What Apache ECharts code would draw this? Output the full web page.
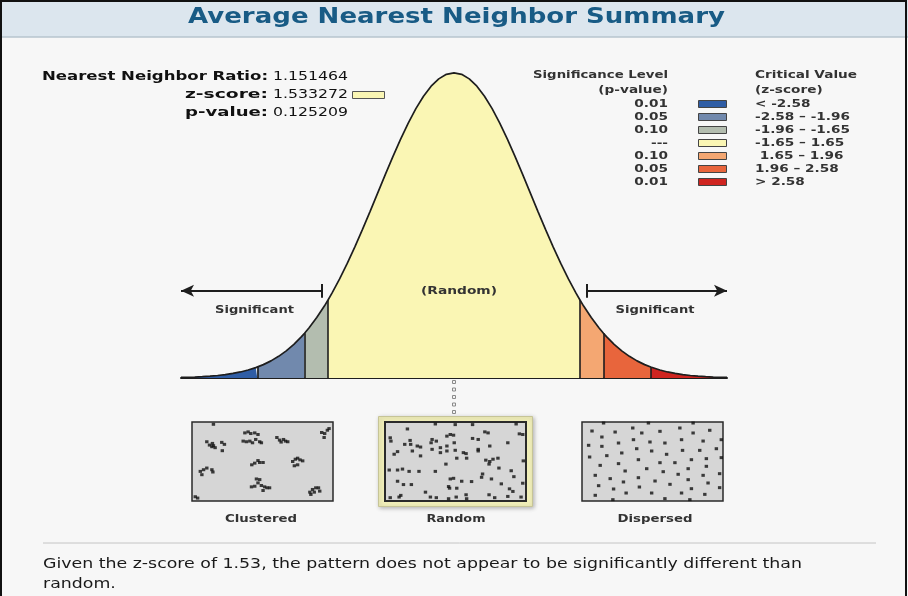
<!DOCTYPE html>
<html>
<head>
<meta charset="utf-8">
<title>Average Nearest Neighbor Summary</title>
<script src="https://cdn.jsdelivr.net/npm/echarts@6/dist/echarts.min.js"></script>
<style>
  html, body { margin: 0; padding: 0; background: #f7f7f7; }
  #main { width: 908px; height: 596px; }
</style>
</head>
<body>
<div id="main"></div>
<script>
// normal curve, right half (left half is the mirror)
var curveZ = [0, 0.1, 0.2, 0.3, 0.4, 0.5, 0.6, 0.7, 0.8, 0.9, 1.0, 1.1, 1.2, 1.3, 1.4, 1.5, 1.6, 1.65, 1.7, 1.8, 1.9, 1.96,
    2.0, 2.1, 2.2, 2.3, 2.4, 2.5, 2.58, 2.6, 2.7, 2.8, 2.9, 3.0, 3.1, 3.2, 3.3, 3.4, 3.5, 3.58];
var curveDensity = [0.3989, 0.3970, 0.3910, 0.3814, 0.3683, 0.3521, 0.3332, 0.3123, 0.2897, 0.2661, 0.2420, 0.2179,
    0.1942, 0.1714, 0.1497, 0.1295, 0.1109, 0.1023, 0.0940, 0.0790, 0.0656, 0.0584, 0.0540, 0.0440, 0.0355, 0.0283,
    0.0224, 0.0175, 0.0143, 0.0136, 0.0104, 0.0079, 0.0060, 0.0044, 0.0033, 0.0024, 0.0017, 0.0012, 0.0009, 0.0007];

var bandLimits = [-3.58, -2.58, -1.96, -1.65, 1.65, 1.96, 2.58, 3.58];
var bandColors = ['#2f5da5', '#7189ad', '#b3bdaf', '#faf6b4', '#f4a772', '#e8653c', '#cf2420'];
var pValues = ['0.01', '0.05', '0.10', '---', '0.10', '0.05', '0.01'];
var criticalValues = ['< -2.58', '-2.58 \u2013 -1.96', '-1.96 \u2013 -1.65', '-1.65 \u2013 1.65', ' 1.65 \u2013 1.96', '1.96 \u2013 2.58', '> 2.58'];

var nnRatio = '1.151464';
var zScore = '1.533272';
var pValue = '0.125209';
var sigZ = 1.74;     // where the "Significant" arrows start
var arrowY = 0.114;

// point patterns, 0-100 inside each box (y from top)
var clusteredDots = [[15.2,2.9],[10.5,25],[12.4,29.2],[14.1,31.3],[15.2,30],[16.4,32.5],[21.1,25.8],[23,28.3],[21.5,36.3],[14.5,27.1],
    [37.5,13.8],[39.8,12.5],[41.7,14.6],[44.5,13.8],[46.8,15.8],[36.3,24.2],[38.6,25],[41,24.2],[42.9,26.3],[45.2,22.1],[48,25],[49.2,26.3],
    [60.2,19.6],[62.1,22.9],[64.9,22.1],[66.3,24.2],[67.9,25],[63.2,25.4],[92,13.3],[94.1,14.6],[96,10.4],[97.2,8.3],[93.7,19.6],
    [42.4,54.2],[44.5,52.1],[46.8,48.8],[48,51.3],[50.4,51.3],[71.4,50],[73.3,47.1],[74.9,45.8],[76.6,47.9],[78.5,49.2],[72.6,55.4],[74.9,54.2],
    [5.9,62.5],[8.2,60.4],[10.5,58.3],[14.1,60.4],[14.8,63.3],[7,66.7],[45.7,72.1],[48,72.9],[46.8,77.1],[49.2,80.4],[51.5,82.1],[53.2,83.3],
    [55,83.3],[42.2,82.1],[44.5,81.3],[50.4,86.7],[83.6,88.8],[85.5,85.4],[87.8,83.3],[89.7,83.3],[90.6,87.5],[84.3,91.7],[86.7,88.8],
    [2.3,94.6],[4,96.3]];
var randomDots = [[15.9,8.8],[35.7,2.5],[49.8,3.3],[62.1,3.3],[93,2.5],[3.7,20],[4.2,24.2],[14,28.3],[17.8,23.3],[18.2,28.3],[22.9,30.4],
    [25.2,31.7],[33.4,22.1],[32.7,26.3],[36.4,24.2],[43.9,17.9],[46.3,15.8],[48.6,16.7],[49.1,26.3],[43.9,30.4],[39.3,32.5],[62.1,20.8],
    [66.1,22.1],[70.8,12.5],[73.1,13.8],[95.3,15],[97.7,15.8],[87.1,26.3],[74.3,30.4],[66.1,34.6],[66.1,36.7],[6.5,40.8],[8.9,37.5],
    [19.4,36.7],[25.2,42.9],[33.4,34.6],[39.3,38.8],[43.9,36.7],[49.8,35.8],[55.6,38.8],[57.5,40],[50.9,45.8],[57.9,45.8],[71.5,48.3],
    [74.3,50],[76.6,47.1],[80.1,45.8],[73.8,53.3],[80.8,58.3],[43.2,53.3],[3,60.8],[8.9,60.8],[12.4,59.6],[17.1,62.5],[24.1,62.5],
    [35.7,62.5],[89.5,61.7],[98.1,49.2],[69.2,65.8],[68.5,70],[75.5,72.1],[91.4,69.2],[8.9,75],[13.1,79.2],[18.7,79.2],[46.3,72.1],
    [48.6,71.3],[54.4,75],[61.4,75.4],[45.1,81.7],[45.8,83.8],[50.9,83.8],[82.5,78.3],[97.7,77.5],[88.3,84.6],[90.7,87.9],[28.7,88.8],
    [32.2,95],[36.4,95.8],[45.1,97.1],[50.5,95],[57.5,92.1],[57.9,97.1],[73.8,92.1],[77.8,95.8],[87.1,94.2],[96.5,95],[3.7,95.8],
    [10,95],[11.2,92.9]];
var dispersedDots = [[15.3,1.3],[47.1,1.3],[78.8,1.3],[7.1,11.4],[23.5,12.7],[36,7.6],[42.4,13.9],[55.3,11.8],[69.4,7.6],[78.8,13.9],
    [90.6,10.5],[14.1,19],[25.9,26.6],[36.5,22.4],[48.2,25.3],[58.8,26.6],[70.6,22.4],[85.9,24.1],[98.8,22.4],[4.7,29.5],[14.1,30.8],
    [28.2,39.2],[38.8,33.8],[49.4,36.7],[60,40.9],[71.3,35.9],[83.5,35.9],[95.3,33.8],[5.4,44.3],[17.6,42.6],[25.9,52.7],[40,47.7],
    [55.3,51.5],[65.9,51.5],[77.6,47.7],[88.2,46.4],[98.8,45.1],[12.9,54.9],[30.6,62],[45.9,59.1],[57.6,62.9],[68.2,66.2],[75.3,59.1],
    [88.2,56.1],[9.4,67.5],[20,71.7],[29.4,75.9],[40,70.5],[51.8,74.7],[62.4,78.9],[75.3,73],[85.9,67.5],[97.6,65.4],[11.8,80.6],
    [22.4,84.8],[31.3,89.9],[40.7,82.3],[49.4,89.9],[70.6,89.9],[77.6,84.4],[89.4,77.2],[97.6,83.1],[9.4,92.8],[21.9,98.3],[58.8,97],
    [76.5,98.3],[87.1,91.6]];

var summaryLine1 = 'Given the z-score of 1.53, the pattern does not appear to be significantly different than';
var summaryLine2 = 'random.';

// full curve from the two halves
var curve = [];
for (var i = curveZ.length - 1; i > 0; i--) curve.push([-curveZ[i], curveDensity[i]]);
for (var i = 0; i < curveZ.length; i++) curve.push([curveZ[i], curveDensity[i]]);

function densityAt(z) {
    var k = curveZ.indexOf(Math.abs(z));
    return curveDensity[k];
}

var FONT = '"DejaVu Sans", Verdana, sans-serif';
var SX = 1.3; // the screenshot is stretched sideways
var ctx = document.createElement('canvas').getContext('2d');
function label(str, x, y, size, bold, fill, align, width) {
    var font = (bold ? 'bold ' : '') + size + 'px ' + FONT;
    ctx.font = font;
    var s = width ? width / ctx.measureText(str.trim()).width : SX;
    return {
        type: 'text', x: x, y: y, scaleX: s, z: 20, silent: true,
        style: { text: str, font: font, fill: fill, textAlign: align || 'left', textVerticalAlign: 'middle' }
    };
}

var series = [];
for (var b = 0; b < bandColors.length; b++) {
    var lo = bandLimits[b], hi = bandLimits[b + 1];
    series.push({
        type: 'line', xAxisIndex: 0, yAxisIndex: 0, symbol: 'none', silent: true, z: 2,
        data: curve.filter(function (p) { return p[0] >= lo - 1e-9 && p[0] <= hi + 1e-9; }),
        lineStyle: { width: 0 },
        areaStyle: { color: bandColors[b], opacity: 1 }
    });
}

var lines = [];
for (var b = 1; b < bandLimits.length - 1; b++) {
    lines.push([{ coord: [bandLimits[b], 0] }, { coord: [bandLimits[b], densityAt(bandLimits[b])] }]);
}
var thick = { color: '#1e1e1e', width: 2, type: 'solid' };
lines.push([{ coord: [-sigZ, arrowY - 0.009], lineStyle: thick }, { coord: [-sigZ, arrowY + 0.009] }]);
lines.push([{ coord: [sigZ, arrowY - 0.009], lineStyle: thick }, { coord: [sigZ, arrowY + 0.009] }]);
lines.push([{ coord: [-sigZ, arrowY], lineStyle: thick },
    { coord: [bandLimits[0], arrowY], symbol: 'arrow', symbolSize: [9, 13] }]);
lines.push([{ coord: [sigZ, arrowY], lineStyle: thick },
    { coord: [bandLimits[bandLimits.length - 1], arrowY], symbol: 'arrow', symbolSize: [9, 13] }]);
lines.push([{ coord: [0, curveDensity[0]] }, { coord: [0, curveDensity[0] + 0.004] }]);

series.push({
    type: 'line', xAxisIndex: 0, yAxisIndex: 0, symbol: 'none', silent: true, z: 3,
    data: curve,
    lineStyle: { color: '#1e1e1e', width: 1.7 },
    markLine: {
        silent: true, animation: false, symbol: 'none',
        label: { show: false },
        lineStyle: { color: '#1e1e1e', width: 1.6, type: 'solid' },
        emphasis: { disabled: true },
        data: lines
    }
});

var boxes = [clusteredDots, randomDots, dispersedDots];
for (var g = 0; g < boxes.length; g++) {
    series.push({
        type: 'scatter', xAxisIndex: g + 1, yAxisIndex: g + 1, silent: true,
        symbol: 'rect', symbolSize: [3.4, 3],
        itemStyle: { color: '#111' },
        data: boxes[g]
    });
}

function boxGrid(left, borderWidth) {
    return {
        left: left, top: 422, width: 141, height: 79, show: true,
        backgroundColor: '#d6d6d6', borderColor: '#2a2a2a', borderWidth: borderWidth
    };
}
function boxAxis(inv) {
    return { type: 'value', min: 0, max: 100, show: false, inverse: inv };
}

var graphic = [
    { type: 'rect', z: -10, silent: true, shape: { x: 0, y: 0, width: 908, height: 37 }, style: { fill: '#dce6ee' } },
    { type: 'line', z: -9, silent: true, shape: { x1: 0, y1: 37, x2: 908, y2: 37 }, style: { stroke: '#b7c4ce', lineWidth: 1.5 } },
    { type: 'rect', z: 30, silent: true, shape: { x: 1, y: 1, width: 905, height: 600 }, style: { fill: null, stroke: '#111', lineWidth: 2 } },
    { type: 'line', z: -9, silent: true, shape: { x1: 43, y1: 543, x2: 876, y2: 543 }, style: { stroke: '#c4c4c4', lineWidth: 1 } },
    // frame around the random pattern
    { type: 'rect', z: -5, silent: true, shape: { x: 378.5, y: 416.5, width: 154, height: 90 },
      style: { fill: '#f1efb9', stroke: '#c6c497', lineWidth: 1, shadowBlur: 4, shadowColor: 'rgba(0,0,0,0.25)', shadowOffsetX: 1, shadowOffsetY: 1 } },
    // z-score swatch
    { type: 'rect', z: 20, silent: true, shape: { x: 352.5, y: 91.5, width: 32, height: 7 }, style: { fill: bandColors[3], stroke: '#555', lineWidth: 1 } },
    label('Average Nearest Neighbor Summary', 456.5, 18, 21, true, '#185b85', 'center', 537),
    label('Nearest Neighbor Ratio:', 268, 77, 13, true, '#111', 'right', 226),
    label(nnRatio, 273, 77, 13, false, '#111', 'left', 75),
    label('z-score:', 268, 95, 13, true, '#111', 'right', 83),
    label(zScore, 273, 95, 13, false, '#111', 'left', 75),
    label('p-value:', 268, 113, 13, true, '#111', 'right', 83),
    label(pValue, 273, 113, 13, false, '#111', 'left', 75),
    label('Significance Level', 668, 75, 10.5, true, '#333', 'right', 135),
    label('(p-value)', 668, 90, 10.5, true, '#333', 'right'),
    label('Critical Value', 755, 75, 10.5, true, '#333', 'left'),
    label('(z-score)', 755, 90, 10.5, true, '#333', 'left'),
    label('(Random)', 459, 291, 10.5, true, '#333', 'center', 76),
    label('Significant', 254.5, 310, 10.5, true, '#333', 'center', 79),
    label('Significant', 655, 310, 10.5, true, '#333', 'center', 79),
    label('Clustered', 261, 519, 10.5, true, '#333', 'center', 72),
    label('Random', 456, 519, 10.5, true, '#333', 'center', 59),
    label('Dispersed', 655, 519, 10.5, true, '#333', 'center', 75),
    label(summaryLine1, 43, 564, 14, false, '#1a1a1a', 'left', 759)
];
var s1 = graphic[graphic.length - 1].scaleX;
var l2 = label(summaryLine2, 43, 584, 14, false, '#1a1a1a', 'left');
l2.scaleX = s1;
graphic.push(l2);

for (var r = 0; r < pValues.length; r++) {
    var ry = 104 + r * 13;
    graphic.push(label(pValues[r], 668, ry, 10.5, true, '#333', 'right'));
    graphic.push(label(criticalValues[r], 755, ry, 10.5, true, '#333', 'left'));
    graphic.push({ type: 'rect', z: 20, silent: true, shape: { x: 698.5, y: ry - 3.5, width: 28, height: 7 },
        style: { fill: bandColors[r], stroke: '#444', lineWidth: 1 } });
}
// dotted link from the curve to the random box
for (var q = 0; q < 5; q++) {
    graphic.push({ type: 'rect', z: 20, silent: true, shape: { x: 452.5, y: 380.5 + q * 7.5, width: 3, height: 3 },
        style: { fill: '#f4f4f4', stroke: '#8a8a8a', lineWidth: 1 } });
}

var chart = echarts.init(document.getElementById('main'));
chart.setOption({
    backgroundColor: '#f7f7f7',
    animation: false,
    grid: [
        { left: 181, top: 72, width: 546, height: 306 },
        boxGrid(192, 1.5),
        boxGrid(385, 2),
        boxGrid(582, 1.5)
    ],
    xAxis: [
        { type: 'value', min: bandLimits[0], max: bandLimits[bandLimits.length - 1], gridIndex: 0,
          axisLine: { show: true, lineStyle: { color: '#1e1e1e', width: 2 } },
          axisTick: { show: false }, axisLabel: { show: false }, splitLine: { show: false } },
        Object.assign(boxAxis(false), { gridIndex: 1 }),
        Object.assign(boxAxis(false), { gridIndex: 2 }),
        Object.assign(boxAxis(false), { gridIndex: 3 })
    ],
    yAxis: [
        { type: 'value', min: 0, max: 0.4, gridIndex: 0, show: false },
        Object.assign(boxAxis(true), { gridIndex: 1 }),
        Object.assign(boxAxis(true), { gridIndex: 2 }),
        Object.assign(boxAxis(true), { gridIndex: 3 })
    ],
    graphic: graphic,
    series: series
});

window.onresize = function () { chart.resize(); };
</script>
</body>
</html>
